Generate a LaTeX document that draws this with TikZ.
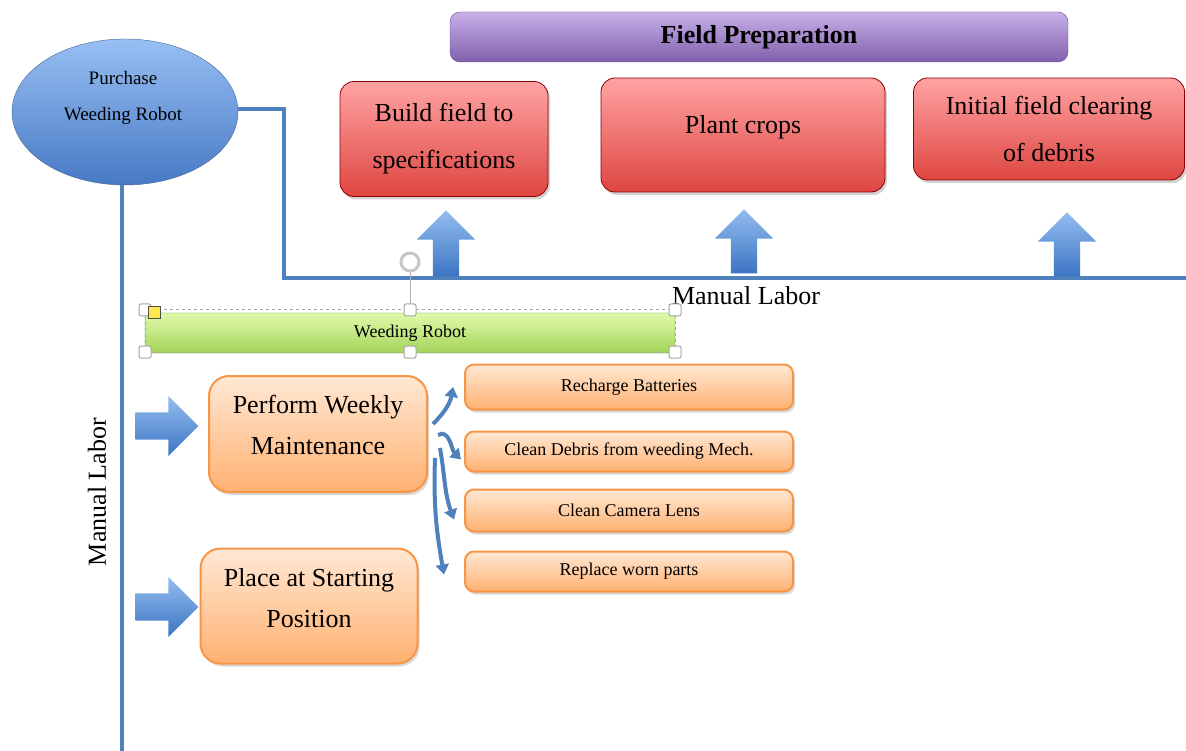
\documentclass[tikz,border=0pt]{standalone}
\usepackage{fontspec}
\setmainfont{Liberation Serif}
\usepackage{xcolor}
\usepackage{tikz}
\usetikzlibrary{arrows.meta,positioning,shapes.geometric,shapes.arrows,shadows}
\definecolor{linkblue}{HTML}{4F81BD}
\definecolor{elltop}{HTML}{97BFF3}
\definecolor{ellbot}{HTML}{4879C4}
\definecolor{purtop}{HTML}{C8B0EA}
\definecolor{purbot}{HTML}{8060AC}
\definecolor{redtop}{HTML}{FFA3A3}
\definecolor{redbot}{HTML}{DE4641}
\definecolor{orgtop}{HTML}{FFE8D4}
\definecolor{orgbot}{HTML}{FFB171}
\definecolor{orgedge}{HTML}{F79646}
\definecolor{grntop}{HTML}{E0FAAA}
\definecolor{grnbot}{HTML}{A4D45A}
\definecolor{arrtop}{HTML}{93BDF0}
\definecolor{arrbot}{HTML}{3C74C2}
\tikzset{
        bluelink/.style={linkblue,line width=4pt},
        redbox/.style={draw=red!55!black,line width=0.8pt,rounded corners=14pt,
            top color=redtop,bottom color=redbot,align=center,
            drop shadow={shadow xshift=2pt,shadow yshift=-3pt,opacity=0.35},
            font=\fontsize{26}{47}\selectfont},
        orangebox/.style={draw=orgedge,line width=2pt,rounded corners=20pt,
            top color=orgtop,bottom color=orgbot,align=center,
            drop shadow={shadow xshift=2pt,shadow yshift=-3pt,opacity=0.3},
            font=\fontsize{26}{41}\selectfont},
        taskbox/.style={draw=orgedge,line width=2pt,rounded corners=9pt,
            top color=orgtop,bottom color=orgbot,
            drop shadow={shadow xshift=2pt,shadow yshift=-3pt,opacity=0.3},
            minimum width=328pt,font=\fontsize{18}{20}\selectfont},
        blockarrow/.style={single arrow,draw=none,top color=arrtop,bottom color=arrbot,
            single arrow head extend=16pt,inner sep=13pt},
        curvearrow/.style={linkblue,line width=4pt,-{Triangle[width=13pt,length=10pt]}},
        handle/.style={draw=gray!70,fill=white,rounded corners=2pt,line width=1pt}
    }

\begin{document}
\begin{tikzpicture}[x=1pt,y=-1pt]
            \useasboundingbox (0,0) rectangle (1186,751);
            % links drawn first
            \node[ellipse,draw=linkblue!80!black,top color=elltop,bottom color=ellbot,
                  minimum width=226pt,minimum height=146pt] (purchase) at (125,112) {};
            \coordinate (turn) at (284,278);
            \coordinate (lineend) at (1190,278);
            \coordinate (vend) at (122,751);
            \draw[bluelink] ([yshift=3pt]purchase.east) -| (turn) -- (lineend);
            \draw[bluelink] ([xshift=-3pt]purchase.south) -- ([xshift=-3pt]purchase.south |- vend);
            \node[align=center,font=\fontsize{19}{36}\selectfont] (purchasetext)
                  at (123,98) {Purchase\\Weeding Robot};
            % field preparation
            \node[draw=purbot!80!black,rounded corners=10pt,top color=purtop,bottom color=purbot,
                  minimum width=618pt,minimum height=50pt,font=\fontsize{26}{30}\selectfont\bfseries]
                  (prep) at (759,37) {Field Preparation};
            \node[redbox,minimum width=208pt,minimum height=115pt] (build) at (444,139)
                  {Build field to\\specifications};
            \node[redbox,minimum width=284pt,minimum height=114pt] (plant) at (743,135)
                  {\raisebox{8pt}[\height][\depth]{Plant crops}};
            \node[redbox,minimum width=271pt,minimum height=102pt] (clear) at (1049,129)
                  {Initial field clearing\\of debris};
            \node[blockarrow,shape border rotate=90,minimum height=66pt,minimum width=58pt]
                  (up1) at (446,250) {};
            \node[blockarrow,shape border rotate=90,minimum height=64pt,minimum width=58pt]
                  (up2) at (744,248) {};
            \node[blockarrow,shape border rotate=90,minimum height=64pt,minimum width=58pt]
                  (up3) at (1067,251) {};
            \node[font=\fontsize{26}{30}\selectfont] (labortop) at (746,296) {Manual Labor};
            \node[font=\fontsize{26}{30}\selectfont,rotate=90] (laborside) at (97,492) {Manual Labor};
            % weeding robot bar (selected)
            \node[draw=green!45!black!70,top color=grntop,bottom color=grnbot,rounded corners=3pt,
                  minimum width=530pt,minimum height=40pt,font=\fontsize{18}{20}\selectfont]
                  (robot) at (410,333) {Weeding Robot};
            \draw[gray!70,dashed,line width=1pt] (145,310) rectangle (675,352);
            \draw[gray!60] (410,272) -- (410,304);
            \draw[gray!45,line width=3pt] (410,262) circle (9pt);
            \foreach \hx in {145,410,675}
              \foreach \hy in {310,352}
                \draw[handle] (\hx-6,\hy-6) rectangle ++(12,12);
            \draw[draw=gray!60!black,fill=yellow!80!orange!70,line width=1pt] (148,307) rectangle ++(12,12);
            % manual labor tasks
            \node[orangebox,minimum width=218pt,minimum height=116pt] (maint) at (318,434)
                  {\raisebox{9pt}[\height][\depth]{Perform Weekly}\\
                   \raisebox{9pt}[\height][\depth]{Maintenance}};
            \node[orangebox,minimum width=217pt,minimum height=115pt] (place) at (309,606)
                  {\raisebox{8pt}[\height][\depth]{Place at Starting}\\
                   \raisebox{8pt}[\height][\depth]{Position}};
            \node[blockarrow,minimum height=63pt,minimum width=60pt] (right1) at (160,426) {};
            \node[blockarrow,minimum height=63pt,minimum width=60pt] (right2) at (160,607) {};
            \node[taskbox,minimum height=45pt] (recharge) at (629,387) {Recharge Batteries};
            \node[taskbox,minimum height=40pt,below=20pt of recharge] (debris) {Clean Debris from weeding Mech.};
            \node[taskbox,minimum height=42pt,below=16pt of debris] (lens) {Clean Camera Lens};
            \node[taskbox,minimum height=40pt,below=18pt of lens] (parts) {Replace worn parts};
            \draw[curvearrow] ([xshift=5pt,yshift=10pt]maint.east) to[out=45,in=260]
                  ([xshift=-11pt]recharge.west);
            \draw[curvearrow] ([xshift=10pt,yshift=-1pt]maint.east) to[out=30,in=135]
                  ([xshift=-3pt,yshift=-8pt]debris.west);
            \draw[curvearrow] ([xshift=12pt,yshift=-14pt]maint.east) to[out=-80,in=110]
                  ([xshift=-10pt,yshift=-9pt]lens.west);
            \draw[curvearrow] ([xshift=7pt,yshift=-24pt]maint.east) to[out=-92,in=100]
                  ([xshift=-20pt,yshift=-3pt]parts.west);
          \end{tikzpicture}
\end{document}
